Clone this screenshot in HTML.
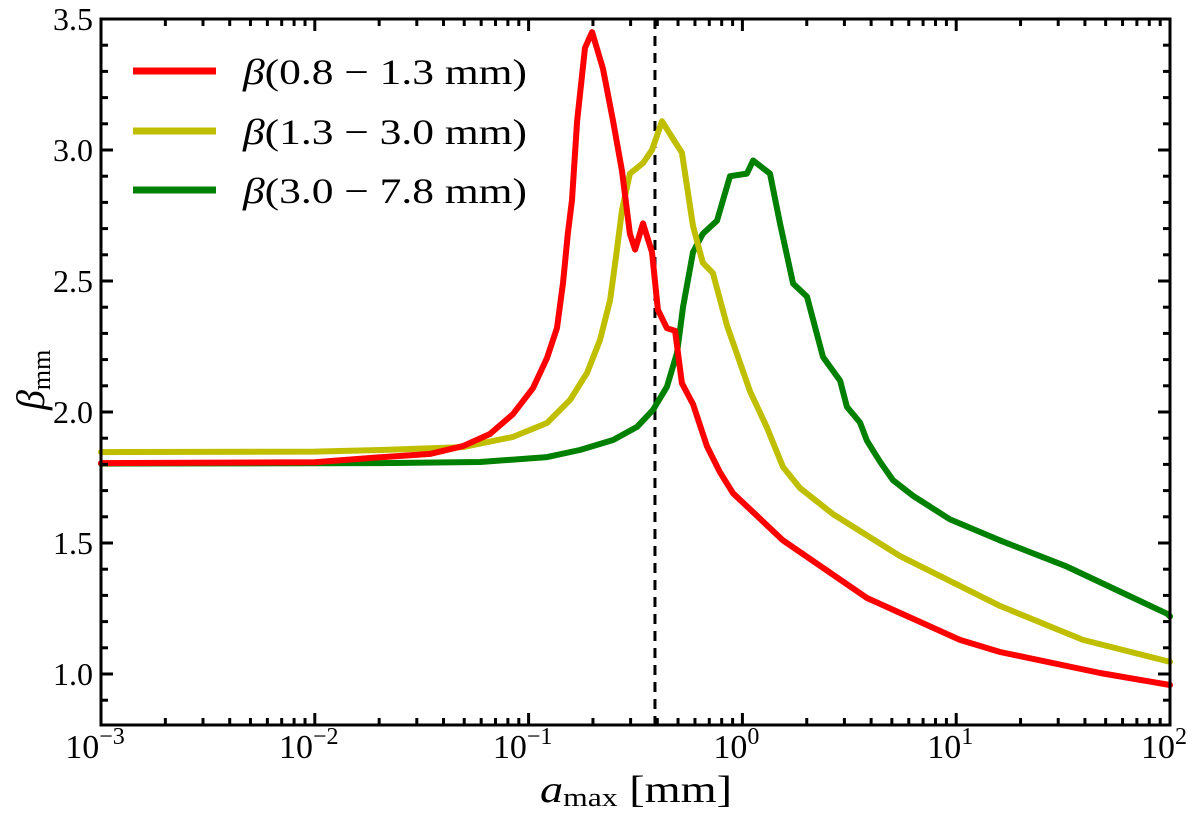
<!DOCTYPE html>
<html><head><meta charset="utf-8"><style>
body{margin:0;background:#fff}
svg text{font-family:"Liberation Serif",serif;fill:#000}
</style></head><body>
<svg id="chart" width="1200" height="812" viewBox="0 0 1200 812" xmlns="http://www.w3.org/2000/svg">
<g id="plot"></g>
<g id="legend">
 <line x1="133" y1="71" x2="216" y2="71" stroke="#ff0000" stroke-width="7"/>
 <text x="243" y="84" font-size="36" textLength="284" lengthAdjust="spacingAndGlyphs"><tspan font-style="italic">β</tspan>(0.8 − 1.3 mm)</text>
 <line x1="133" y1="131" x2="216" y2="131" stroke="#bfbf00" stroke-width="7"/>
 <text x="243" y="144" font-size="36" textLength="284" lengthAdjust="spacingAndGlyphs"><tspan font-style="italic">β</tspan>(1.3 − 3.0 mm)</text>
 <line x1="133" y1="190" x2="216" y2="190" stroke="#008000" stroke-width="7"/>
 <text x="243" y="203" font-size="36" textLength="284" lengthAdjust="spacingAndGlyphs"><tspan font-style="italic">β</tspan>(3.0 − 7.8 mm)</text>
</g>
<text x="540" y="802" font-size="38" textLength="192" lengthAdjust="spacingAndGlyphs"><tspan font-style="italic">a</tspan><tspan font-size="26" dy="4">max</tspan><tspan dy="-4"> [mm]</tspan></text>
<text transform="translate(44,410) rotate(-90)" font-size="40"><tspan font-style="italic">β</tspan><tspan font-size="26" dy="6">mm</tspan></text>
</svg>
<script>
const redLog=[-3,-2,-1.695,-1.461,-1.307,-1.181,-1.073,-0.979,-0.914,-0.867,-0.839,-0.816,-0.797,-0.773,-0.736,-0.703,-0.652,-0.605,-0.563,-0.526,-0.502,-0.465,-0.423,-0.395,-0.353,-0.315,-0.283,-0.231,-0.166,-0.105,-0.044,0.19,0.583,1.018,1.205,1.673,2.0];
const redBeta=[1.805,1.808,1.827,1.84,1.87,1.916,1.992,2.092,2.206,2.321,2.492,2.683,2.809,3.11,3.39,3.45,3.31,3.11,2.92,2.68,2.62,2.72,2.61,2.39,2.32,2.31,2.11,2.03,1.87,1.77,1.69,1.51,1.29,1.13,1.084,1.004,0.958];
const yelLog=[-3,-2,-1.695,-1.307,-1.073,-0.914,-0.806,-0.727,-0.666,-0.619,-0.587,-0.563,-0.526,-0.465,-0.423,-0.376,-0.315,-0.283,-0.231,-0.185,-0.138,-0.072,-0.025,0.035,0.115,0.19,0.269,0.424,0.737,1.205,1.593,2.0];
const yelBeta=[1.847,1.849,1.855,1.866,1.905,1.958,2.046,2.149,2.275,2.427,2.618,2.771,2.91,2.95,3.0,3.11,3.03,2.99,2.71,2.57,2.53,2.33,2.22,2.08,1.94,1.79,1.71,1.61,1.45,1.26,1.13,1.046];
const grnLog=[-3,-1.695,-1.227,-0.914,-0.76,-0.605,-0.493,-0.418,-0.353,-0.306,-0.278,-0.231,-0.185,-0.119,-0.058,0.021,0.05,0.129,0.176,0.237,0.302,0.377,0.457,0.489,0.55,0.583,0.644,0.704,0.798,0.971,1.205,1.518,1.986,2.0];
const grnBeta=[1.803,1.805,1.809,1.828,1.855,1.893,1.943,2.008,2.096,2.225,2.40,2.61,2.68,2.73,2.9,2.91,2.96,2.91,2.72,2.49,2.44,2.21,2.12,2.02,1.96,1.89,1.81,1.74,1.68,1.59,1.51,1.41,1.23,1.22];
const yTicks=[1.0,1.5,2.0,2.5,3.0,3.5];
const xTickExps=[-3,-2,-1,0,1,2];
const refLineA=0.39;

const L=101,R=1170,T=19,B=725;
const xs=lg=>L+(lg+3)/5*(R-L);
const ys=b=>T+(3.5-b)*262;
const NS="http://www.w3.org/2000/svg";
const plot=document.getElementById('plot');
function mk(tag,attrs){const e=document.createElementNS(NS,tag);for(const k in attrs)e.setAttribute(k,attrs[k]);plot.appendChild(e);return e;}

const ref=mk('line',{x1:xs(Math.log10(refLineA)),x2:xs(Math.log10(refLineA)),y1:T,y2:B,stroke:'#000','stroke-width':3,'stroke-dasharray':'10,7'});



function series(lx,by,color,name){
 const p=lx.map((v,i)=>xs(v).toFixed(1)+','+ys(by[i]).toFixed(1)).join(' ');
 const e=mk('polyline',{points:p,fill:'none',stroke:color,'stroke-width':6,'stroke-linejoin':'round','stroke-linecap':'round'});
 
 
}
series(grnLog,grnBeta,'#008000','series-green');
series(yelLog,yelBeta,'#bfbf00','series-yellow');
series(redLog,redBeta,'#ff0000','series-red');

const fr=mk('rect',{x:L,y:T,width:R-L,height:B-T,fill:'none',stroke:'#000','stroke-width':3});



for(let b=0.9;b<=3.501;b+=0.1){
 const major=Math.abs(b*2-Math.round(b*2))<1e-6;
 const len=major?12:7,y=ys(b);
 const t1=mk('line',{x1:L,x2:L+len,y1:y,y2:y,stroke:'#000','stroke-width':3});
 
 
 const t2=mk('line',{x1:R,x2:R-len,y1:y,y2:y,stroke:'#000','stroke-width':3});
 
 
}
yTicks.forEach(v=>{
 const t=mk('text',{x:L-8,y:ys(v)+11,'font-size':32,'text-anchor':'end'});
 t.textContent=v.toFixed(1);
 
 
});
xTickExps.forEach((e,i)=>{
 for(let m=1;m<=9;m++){
  if(i===xTickExps.length-1&&m>1)break;
  const lg=e+Math.log10(m),x=xs(lg),len=m===1?12:7;
  const t1=mk('line',{x1:x,x2:x,y1:B,y2:B-len,stroke:'#000','stroke-width':3});
  
  
  const t2=mk('line',{x1:x,x2:x,y1:T,y2:T+len,stroke:'#000','stroke-width':3});
  
  
 }
 const t=mk('text',{x:xs(e)-6,y:B+33,'font-size':34,'text-anchor':'middle'});
 
 
 const a=document.createElementNS(NS,'tspan');a.textContent='10';t.appendChild(a);
 const s=document.createElementNS(NS,'tspan');s.setAttribute('font-size','24');s.setAttribute('dy','-14');s.textContent=(e<0?'−':'')+Math.abs(e);t.appendChild(s);
});
</script>
</body></html>
